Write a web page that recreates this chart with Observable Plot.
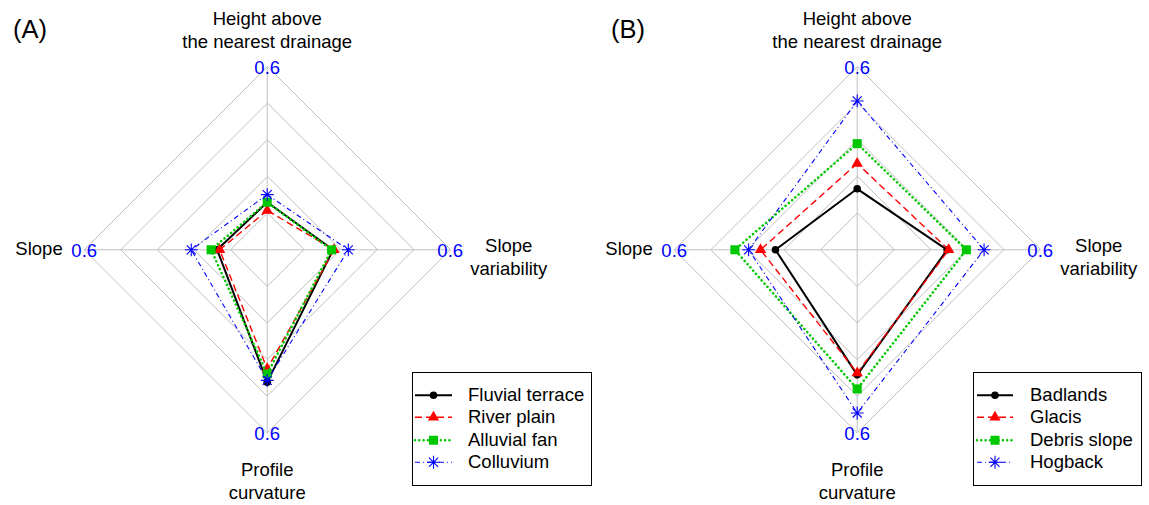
<!DOCTYPE html>
<html>
<head>
<meta charset="utf-8">
<script src="https://cdn.jsdelivr.net/npm/d3@7"></script>
<script src="https://cdn.jsdelivr.net/npm/@observablehq/plot@0.6"></script>
<style>
  html, body { margin: 0; padding: 0; background: #fff; }
  #wrap { position: relative; width: 1149px; height: 505px; display: flex; font-family: "Liberation Sans", Arial, Helvetica, sans-serif; overflow: hidden; }
  .panel-tag { position: absolute; font-size: 25.5px; line-height: 1; color: #000; }
  .legend { position: absolute; border: 1px solid #000; background: #fff; box-sizing: border-box; padding-top: 10.5px; font-size: 18.5px; color: #000; }
  .legend .row { display: flex; align-items: center; height: 22.5px; white-space: nowrap; }
  .legend svg { flex: none; overflow: visible; }
</style>
</head>
<body>
<div id="wrap"></div>
<script>
// ---------------- data ----------------
const axisLabels = ["Height above\nthe nearest drainage", "Slope", "Profile\ncurvature", "Slope\nvariability"]; // top, left, bottom, right
const ringLevels = [0.12, 0.24, 0.36, 0.48, 0.6];
const axisMax = 0.6;
const tickLabel = "0.6";

const panelTags = ["(A)", "(B)"];

const seriesA = ["Fluvial terrace", "River plain", "Alluvial fan", "Colluvium"];
const fluvialTerrace = [0.156, 0.164, 0.434, 0.216];
const riverPlain     = [0.129, 0.156, 0.390, 0.219];
const alluvialFan    = [0.156, 0.184, 0.407, 0.211];
const colluvium      = [0.181, 0.249, 0.428, 0.266];

const seriesB = ["Badlands", "Glacis", "Debris slope", "Hogback"];
const badlands    = [0.200, 0.268, 0.410, 0.295];
const glacis      = [0.283, 0.317, 0.404, 0.300];
const debrisSlope = [0.348, 0.401, 0.456, 0.358];
const hogback     = [0.488, 0.356, 0.535, 0.416];

// ---------------- styles ----------------
const asterisk8 = {
  draw(ctx, size) {
    const r = Math.sqrt(size / Math.PI), d = r * Math.SQRT1_2;
    ctx.moveTo(-r, 0); ctx.lineTo(r, 0);
    ctx.moveTo(0, -r); ctx.lineTo(0, r);
    ctx.moveTo(-d, -d); ctx.lineTo(d, d);
    ctx.moveTo(-d, d); ctx.lineTo(d, -d);
  }
};
const styles = [
  {color: "#000000", width: 2,   dash: null,        cap: "butt",  symbol: "circle",   r: 3.8, filled: true},
  {color: "#ff0000", width: 1.4, dash: "7,4",       cap: "butt",  symbol: "triangle", r: 4.2, filled: true},
  {color: "#00c800", width: 2.6, dash: "0.01,4.3",  cap: "round", symbol: "square",   r: 5.1, filled: true},
  {color: "#0000ff", width: 1.1, dash: "5,3,1,3",   cap: "butt",  symbol: asterisk8,  r: 6.4, filled: false}
];
const FONT = "\"Liberation Sans\", Arial, Helvetica, sans-serif";
const FS = 18.5;

function angleOf(i) { return Math.PI / 2 + i * Math.PI / 2; } // top, left, bottom, right

function buildRows(names, valueLists) {
  const rows = [];
  names.forEach((name, s) => {
    valueLists[s].forEach((v, i) => {
      const a = angleOf(i);
      rows.push({series: name, s, axis: i, value: v, x: v * Math.cos(a), y: v * Math.sin(a)});
    });
  });
  return rows;
}

function panel(width, names, valueLists) {
  const rows = buildRows(names, valueLists);
  const rings = [];
  ringLevels.forEach(lv => axisLabels.forEach((_, i) => {
    const a = angleOf(i);
    rings.push({level: lv, x: lv * Math.cos(a), y: lv * Math.sin(a)});
  }));
  const tips = axisLabels.map((label, i) => {
    const a = angleOf(i);
    return {label, i, x: axisMax * Math.cos(a), y: axisMax * Math.sin(a)};
  });
  const marks = [
    Plot.line(rings, {x: "x", y: "y", z: "level", curve: "linear-closed", stroke: "#c0c0c0", strokeWidth: 1}),
    Plot.link(tips, {x1: 0, y1: 0, x2: "x", y2: "y", stroke: "#c0c0c0", strokeWidth: 1})
  ];
  names.forEach((name, s) => {
    const st = styles[s];
    const data = rows.filter(d => d.s === s);
    marks.push(Plot.line(data, {x: "x", y: "y", curve: "linear-closed", stroke: st.color, strokeWidth: st.width,
      strokeDasharray: st.dash || undefined, strokeLinecap: st.cap}));
    marks.push(Plot.dot(data, {x: "x", y: "y", symbol: () => st.symbol, r: st.r,
      fill: st.filled ? st.color : "none", stroke: st.filled ? "none" : st.color, strokeWidth: 1.1}));
  });
  marks.push(Plot.text(tips, {x: "x", y: "y", text: () => tickLabel, fill: "#0000ff", fontSize: FS, textAnchor: "middle", dy: 1}));
  // axis labels
  marks.push(Plot.text(tips.filter(d => d.i === 0), {x: "x", y: "y", text: "label", fontSize: FS, lineHeight: 1.24, textAnchor: "middle", dy: -38, fill: "#000"}));
  marks.push(Plot.text(tips.filter(d => d.i === 1), {x: "x", y: "y", text: "label", fontSize: FS, textAnchor: "end", dx: -21.5, dy: -0.5, fill: "#000"}));
  marks.push(Plot.text(tips.filter(d => d.i === 2), {x: "x", y: "y", text: "label", fontSize: FS, lineHeight: 1.24, textAnchor: "middle", dy: 47, fill: "#000"}));
  marks.push(Plot.text(tips.filter(d => d.i === 3), {x: "x", y: "y", text: "label", fontSize: FS, lineHeight: 1.24, textAnchor: "middle", dx: 58.5, dy: 6, fill: "#000"}));

  return Plot.plot({
    width, height: 505,
    marginLeft: 83.7, marginRight: width - 449.7, marginTop: 66.3, marginBottom: 505 - 432.3,
    x: {domain: [-axisMax, axisMax], axis: null},
    y: {domain: [-axisMax, axisMax], axis: null},
    style: {fontFamily: FONT, fontSize: FS + "px", background: "transparent", overflow: "visible"},
    marks
  });
}

function legend(names, left, width, lineX0, lineX1, textLeft) {
  const box = document.createElement("div");
  box.className = "legend";
  box.style.left = left + "px"; box.style.top = "372px";
  box.style.width = width + "px"; box.style.height = "114px";
  names.forEach((name, s) => {
    const st = styles[s];
    const row = document.createElement("div");
    row.className = "row";
    const svg = d3.create("svg").attr("width", textLeft).attr("height", 22.5);
    const cy = 11.25;
    svg.append("line").attr("x1", lineX0).attr("x2", lineX1).attr("y1", cy).attr("y2", cy)
      .attr("stroke", st.color).attr("stroke-width", st.width)
      .attr("stroke-dasharray", st.dash).attr("stroke-linecap", st.cap);
    const sym = st.symbol === "circle" ? d3.symbolCircle : st.symbol === "triangle" ? d3.symbolTriangle : st.symbol === "square" ? d3.symbolSquare : asterisk8;
    svg.append("path").attr("transform", `translate(${(lineX0 + lineX1) / 2},${cy})`)
      .attr("d", d3.symbol(sym, st.r * st.r * Math.PI)())
      .attr("fill", st.filled ? st.color : "none").attr("stroke", st.filled ? "none" : st.color).attr("stroke-width", 1.1);
    row.appendChild(svg.node());
    const t = document.createElement("span");
    t.textContent = name;
    row.appendChild(t);
    box.appendChild(row);
  });
  return box;
}

const wrap = document.getElementById("wrap");
wrap.appendChild(panel(590, seriesA, [fluvialTerrace, riverPlain, alluvialFan, colluvium]));
wrap.appendChild(panel(559, seriesB, [badlands, glacis, debrisSlope, hogback]));

const tagA = document.createElement("div"); tagA.className = "panel-tag"; tagA.textContent = panelTags[0];
tagA.style.left = "13px"; tagA.style.top = "17px"; wrap.appendChild(tagA);
const tagB = document.createElement("div"); tagB.className = "panel-tag"; tagB.textContent = panelTags[1];
tagB.style.left = "611px"; tagB.style.top = "17px"; wrap.appendChild(tagB);

wrap.appendChild(legend(seriesA, 412, 180, 2, 39, 55));
wrap.appendChild(legend(seriesB, 973, 169, 3, 39, 56));
</script>
</body>
</html>
